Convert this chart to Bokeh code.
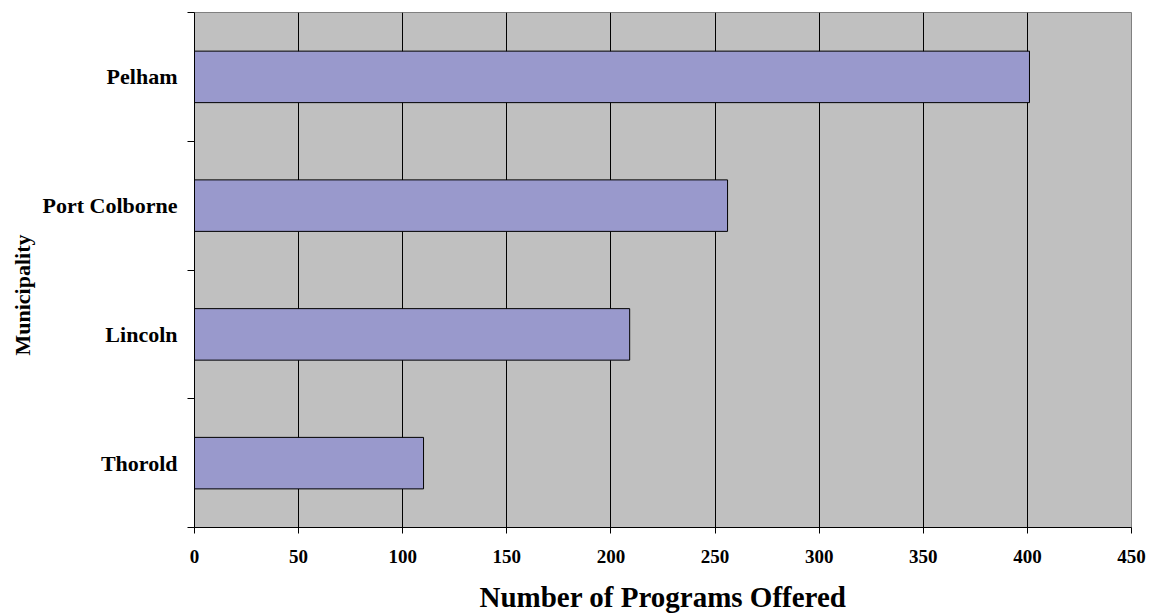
from bokeh.plotting import figure
from bokeh.models import Range1d, FixedTicker, Title, ColumnDataSource
from bokeh.embed import file_html
from bokeh.resources import INLINE

# Programs offered per municipality (bottom to top)
municipalities = ["Thorold", "Lincoln", "Port Colborne", "Pelham"]
programs = [110, 209, 256, 401]
x_ticks = [0, 50, 100, 150, 200, 250, 300, 350, 400, 450]

FONT = "Liberation Serif"

positions = [i + 0.5 for i in range(len(municipalities))]
boundaries = [float(i) for i in range(len(municipalities) + 1)]

source = ColumnDataSource(dict(name=municipalities, y=positions, value=programs))

p = figure(
    width=1151, height=615,
    x_range=Range1d(0, 450), y_range=Range1d(0, len(municipalities)),
    output_backend="svg", toolbar_location=None,
    min_border_left=194, min_border_right=20,
    min_border_top=12, min_border_bottom=88,
)
p.background_fill_color = "#C0C0C0"
p.border_fill_color = "white"
p.outline_line_color = "#808080"

p.hbar(y="y", left=0, right="value", height=0.4, source=source,
       fill_color="#9999CC", line_color="black", line_width=1)

# x axis
p.xaxis.ticker = FixedTicker(ticks=x_ticks)
p.xaxis.axis_line_color = "black"
p.xaxis.major_tick_line_color = "black"
p.xaxis.major_tick_out = 6
p.xaxis.major_tick_in = 0
p.xaxis.minor_tick_line_color = None
p.xaxis.major_label_text_font = FONT
p.xaxis.major_label_text_font_style = "bold"
p.xaxis.major_label_text_font_size = "19px"
p.xaxis.major_label_text_color = "black"
p.xaxis.major_label_standoff = 16
p.xaxis.axis_label = "Number of Programs Offered"
p.xaxis.axis_label_text_font = FONT
p.xaxis.axis_label_text_font_style = "bold"
p.xaxis.axis_label_text_font_size = "29px"
p.xaxis.axis_label_text_color = "black"
p.xaxis.axis_label_standoff = 15

# y axis: labels at band centres, ticks at band boundaries
p.yaxis.ticker = FixedTicker(ticks=positions, minor_ticks=boundaries)
p.yaxis.major_label_overrides = {pos: name for pos, name in zip(positions, municipalities)}
p.yaxis.axis_line_color = "black"
p.yaxis.major_tick_out = 0
p.yaxis.major_tick_in = 0
p.yaxis.minor_tick_out = 7
p.yaxis.minor_tick_in = 0
p.yaxis.minor_tick_line_color = "black"
p.yaxis.major_label_text_font = FONT
p.yaxis.major_label_text_font_style = "bold"
p.yaxis.major_label_text_font_size = "22px"
p.yaxis.major_label_text_color = "black"
p.yaxis.major_label_standoff = 10

# grid
p.xgrid.ticker = FixedTicker(ticks=x_ticks)
p.xgrid.grid_line_color = "black"
p.xgrid.grid_line_width = 1
p.ygrid.grid_line_color = None

# vertical axis title on the left, below the frame centre
p.add_layout(Title(
    text="Municipality", align="left", offset=172,
    text_font=FONT, text_font_style="bold", text_font_size="22px",
    text_color="black", standoff=9,
), "left")

open("out.html", "w").write(file_html(p, INLINE))
